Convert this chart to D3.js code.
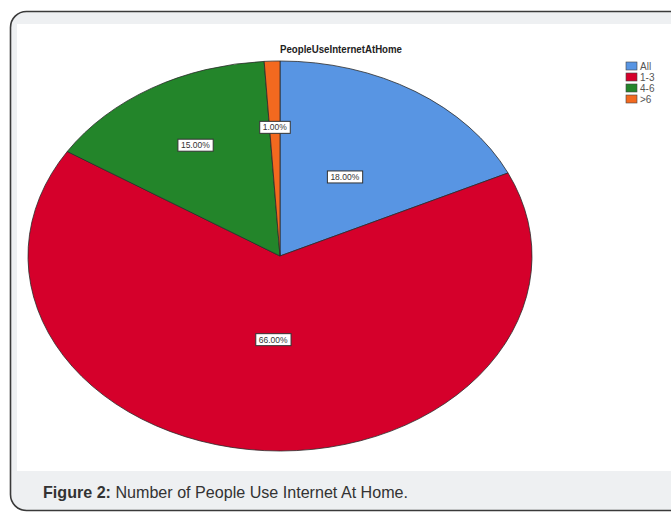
<!DOCTYPE html>
<html>
<head>
<meta charset="utf-8">
<script src="https://cdn.jsdelivr.net/npm/d3@7/dist/d3.min.js"></script>
<style>
  html, body { margin: 0; padding: 0; background: #ffffff; }
  svg { display: block; }
</style>
</head>
<body>
<svg id="chart" width="671" height="512"></svg>
<script>
// Household internet use, by number of people
const categories = ["All", "1-3", "4-6", ">6"];
const percents = [18, 66, 15, 1];
const sliceColors = ["#5895e3", "#d5002b", "#23852a", "#f3691f"];
const chartTitle = "PeopleUseInternetAtHome";
const captionBold = "Figure 2:";
const captionText = " Number of People Use Internet At Home.";

const svg = d3.select("#chart");

// Figure frame: rounded grey card with a white plotting panel
svg.append("rect")
  .attr("x", 10.5).attr("y", 11.5)
  .attr("width", 680).attr("height", 499)
  .attr("rx", 16).attr("ry", 16)
  .attr("fill", "#eef0f2")
  .attr("stroke", "#3a3a3a")
  .attr("stroke-width", 1.6);

svg.append("rect")
  .attr("x", 17).attr("y", 24)
  .attr("width", 660).attr("height", 447)
  .attr("fill", "#ffffff");

// Title
svg.append("text")
  .attr("x", 280).attr("y", 53)
  .attr("font-family", "Liberation Sans, Arial, sans-serif")
  .attr("font-weight", "bold")
  .attr("font-size", 11.5)
  .attr("textLength", 122)
  .attr("lengthAdjust", "spacingAndGlyphs")
  .attr("fill", "#222")
  .text(chartTitle);

// Pie laid out on a circle, stretched horizontally into an ellipse
const cx = 280, cy = 256, rx = 252, ry = 195;
const pie = d3.pie().sort(null).value(d => d.value);
const arcs = pie(categories.map((c, i) => ({ cat: c, value: percents[i], color: sliceColors[i] })));
const arc = d3.arc().innerRadius(0).outerRadius(ry);

const pieG = svg.append("g")
  .attr("transform", `translate(${cx},${cy}) scale(${rx / ry},1)`);

pieG.selectAll("path.slice")
  .data(arcs)
  .join("path")
  .attr("class", "slice")
  .attr("d", arc)
  .attr("fill", d => d.data.color)
  .attr("stroke", "#2b2b2b")
  .attr("stroke-width", 0.8)
  .attr("vector-effect", "non-scaling-stroke");

// Percentage labels, placed along each slice's middle angle
const labelRadius = { "All": 0.48, "1-3": 0.43, "4-6": 0.66, ">6": 0.66 };
const labels = svg.append("g");
arcs.forEach(d => {
  const mid = (d.startAngle + d.endAngle) / 2;
  const r = labelRadius[d.data.cat];
  const x = cx + Math.sin(mid) * rx * r;
  const y = cy - Math.cos(mid) * ry * r;
  const txt = d3.format(".2f")(d.data.value) + "%";
  const g = labels.append("g").attr("transform", `translate(${x},${y})`);
  const t = g.append("text")
    .attr("text-anchor", "middle")
    .attr("dy", "0.35em")
    .attr("font-family", "Liberation Sans, Arial, sans-serif")
    .attr("font-size", 8.5)
    .attr("fill", "#333")
    .text(txt);
  const bb = t.node().getBBox();
  g.insert("rect", "text")
    .attr("x", bb.x - 3).attr("y", bb.y - 1)
    .attr("width", bb.width + 6).attr("height", bb.height + 2)
    .attr("fill", "#ffffff")
    .attr("stroke", "#333")
    .attr("stroke-width", 1);
});

// Legend
const legend = svg.append("g").attr("transform", "translate(626,62)");
const rows = legend.selectAll("g")
  .data(categories)
  .join("g")
  .attr("transform", (d, i) => `translate(0,${i * 11})`);
rows.append("rect")
  .attr("width", 11).attr("height", 8)
  .attr("fill", (d, i) => sliceColors[i])
  .attr("stroke", "#444")
  .attr("stroke-width", 0.6);
rows.append("text")
  .attr("x", 14).attr("y", 8)
  .attr("font-family", "Liberation Sans, Arial, sans-serif")
  .attr("font-size", 10)
  .attr("fill", "#555")
  .text(d => d);

// Caption
const cap = svg.append("text")
  .attr("x", 43).attr("y", 498)
  .attr("font-family", "Liberation Sans, Arial, sans-serif")
  .attr("font-size", 17)
  .attr("textLength", 365)
  .attr("lengthAdjust", "spacingAndGlyphs")
  .attr("fill", "#333");
cap.append("tspan").attr("font-weight", "bold").text(captionBold);
cap.append("tspan").text(captionText);
</script>
</body>
</html>
